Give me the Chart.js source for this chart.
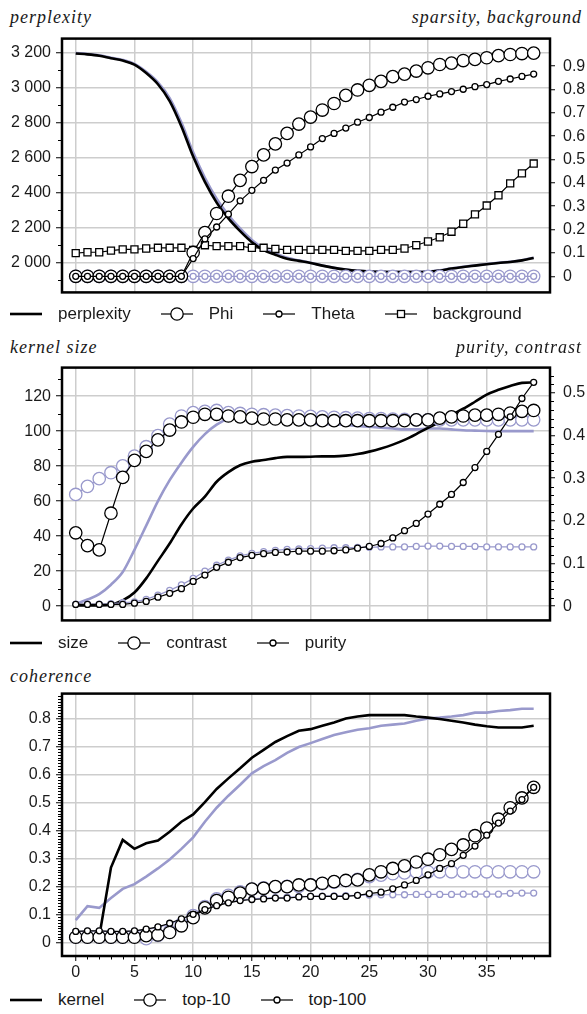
<!DOCTYPE html>
<html>
<head>
<meta charset="utf-8">
<script src="https://cdn.jsdelivr.net/npm/chart.js@4.4.1/dist/chart.umd.min.js"></script>
<style>
  body { margin: 0; width: 587px; height: 1014px; position: relative; background: #fff; overflow: hidden;
         font-family: "Liberation Sans", Arial, sans-serif; color: #1a1a1a; }
  .ttl { position: absolute; font-family: "Liberation Serif", "DejaVu Serif", serif; font-style: italic;
         font-size: 18px; letter-spacing: 1px; line-height: 1; white-space: nowrap; }
  .plot { position: absolute; left: 0; }
  .legend { position: absolute; left: 10px; height: 20px; display: flex; align-items: center; font-size: 17px; }
  .legend .item { display: flex; align-items: center; margin-right: 30px; }
  .legend canvas { margin-right: 16px; }
</style>
</head>
<body>
<div class="ttl" style="left:10px;top:8px">perplexity</div>
<div class="ttl" style="right:5px;top:8px">sparsity, background</div>
<canvas id="c1" class="plot" width="587" height="289" style="top:21px"></canvas>
<div class="legend" id="lg1" style="top:304px"></div>

<div class="ttl" style="left:10px;top:338px">kernel size</div>
<div class="ttl" style="right:5px;top:338px">purity, contrast</div>
<canvas id="c2" class="plot" width="587" height="288" style="top:350px"></canvas>
<div class="legend" id="lg2" style="top:633px"></div>

<div class="ttl" style="left:10px;top:667px">coherence</div>
<canvas id="c3" class="plot" width="587" height="309" style="top:679px"></canvas>
<div class="legend" id="lg3" style="top:990px"></div>

<script>
// iterations on the shared x axis
const iterations = [0, 1, 2, 3, 4, 5, 6, 7, 8, 9, 10, 11, 12, 13, 14, 15, 16, 17, 18, 19,
                    20, 21, 22, 23, 24, 25, 26, 27, 28, 29, 30, 31, 32, 33, 34, 35, 36, 37, 38, 39];
const iterTicks = [0, 5, 10, 15, 20, 25, 30, 35];

// --- panel 1: perplexity / sparsity / background
const perplexity = [3195, 3190, 3182, 3168, 3155, 3131, 3083, 3019, 2923, 2778, 2606, 2461, 2343, 2253, 2180, 2117, 2072, 2045, 2022, 2010,
                    1998, 1983, 1970, 1960, 1953, 1949, 1947, 1946, 1946, 1946, 1948, 1955, 1966, 1975, 1983, 1991, 1998, 2004, 2013, 2027];
const perplexityBase = [3197, 3192, 3185, 3171, 3158, 3135, 3090, 3030, 2940, 2800, 2630, 2485, 2365, 2272, 2195, 2130, 2082, 2052, 2028, 2013,
                        1999, 1984, 1971, 1961, 1954, 1950, 1948, 1947, 1947, 1947, 1949, 1956, 1967, 1976, 1984, 1992, 1999, 2005, 2014, 2028];
const phi = [0, 0, 0, 0, 0, 0, 0, 0, 0, 0, 0.102, 0.187, 0.269, 0.343, 0.411, 0.47, 0.52, 0.567, 0.612, 0.652,
             0.682, 0.712, 0.74, 0.775, 0.798, 0.818, 0.835, 0.855, 0.866, 0.879, 0.893, 0.907, 0.913, 0.924, 0.929, 0.936, 0.945, 0.95, 0.954, 0.956];
const theta = [0, 0, 0, 0, 0, 0, 0, 0, 0, 0, 0.076, 0.16, 0.211, 0.266, 0.323, 0.368, 0.411, 0.455, 0.485, 0.52,
               0.554, 0.59, 0.612, 0.635, 0.66, 0.68, 0.703, 0.724, 0.746, 0.757, 0.771, 0.781, 0.791, 0.801, 0.812, 0.821, 0.835, 0.845, 0.856, 0.866];
const phiBase = [0, 0, 0, 0, 0, 0, 0, 0, 0, 0, 0, 0, 0, 0, 0, 0, 0, 0, 0, 0,
                 0, 0, 0, 0, 0, 0, 0, 0, 0, 0, 0, 0, 0, 0, 0, 0, 0, 0, 0, 0];
const thetaBase = [0, 0, 0, 0, 0, 0, 0, 0, 0, 0, 0, 0, 0, 0, 0, 0, 0, 0, 0, 0,
                   0, 0, 0, 0, 0, 0, 0, 0, 0, 0, 0, 0, 0, 0, 0, 0, 0, 0, 0, 0];
const background = [0.099, 0.103, 0.103, 0.11, 0.115, 0.115, 0.119, 0.122, 0.122, 0.122, 0.113, 0.133, 0.129, 0.129, 0.129, 0.122, 0.122, 0.117, 0.113, 0.113,
                    0.113, 0.113, 0.113, 0.109, 0.109, 0.109, 0.113, 0.113, 0.119, 0.133, 0.149, 0.167, 0.191, 0.225, 0.265, 0.303, 0.347, 0.398, 0.441, 0.483];
const perplexityTicks = [2000, 2200, 2400, 2600, 2800, 3000, 3200];
const perplexityMinor = [1900, 2100, 2300, 2500, 2700, 2900, 3100];
const sparsityTicks = [0, 0.1, 0.2, 0.3, 0.4, 0.5, 0.6, 0.7, 0.8, 0.9];

// --- panel 2: kernel size / purity / contrast
const kernelSize = [0.5, 0.5, 0.5, 1, 3.3, 7.8, 15.9, 25.9, 35.8, 46.7, 55.8, 62.6, 71.1, 76.6, 80.5, 82.5, 83.5, 84.6, 85.3, 85.3,
                    85.4, 85.6, 85.6, 86, 86.9, 88.3, 90.1, 92.3, 95, 98.3, 101.9, 105.2, 109.2, 112.8, 116.8, 120.9, 123.6, 125.8, 127.6, 127.8];
const kernelSizeBase = [1.4, 3.8, 6.9, 12.3, 19.5, 32.2, 46, 60, 72, 82, 91, 98.3, 103.7, 107, 107.5, 107, 106.5, 106, 105.5, 105,
                        104.5, 104, 104, 103.5, 103, 102.5, 102, 101.5, 101, 101, 101.5, 101.5, 101, 100.5, 100.3, 100.1, 100, 100, 100, 100];
const contrast = [0.172, 0.142, 0.132, 0.218, 0.302, 0.342, 0.363, 0.39, 0.413, 0.432, 0.443, 0.45, 0.45, 0.446, 0.444, 0.441, 0.439, 0.439, 0.437, 0.437,
                  0.437, 0.435, 0.435, 0.435, 0.435, 0.435, 0.435, 0.435, 0.435, 0.437, 0.437, 0.441, 0.444, 0.446, 0.448, 0.448, 0.45, 0.453, 0.457, 0.459];
const contrastBase = [0.262, 0.281, 0.299, 0.313, 0.329, 0.352, 0.374, 0.4, 0.427, 0.446, 0.454, 0.457, 0.459, 0.454, 0.452, 0.45, 0.449, 0.448, 0.447, 0.446,
                      0.445, 0.444, 0.443, 0.442, 0.441, 0.44, 0.44, 0.439, 0.438, 0.437, 0.437, 0.437, 0.437, 0.437, 0.437, 0.437, 0.437, 0.437, 0.437, 0.437];
const purity = [0.004, 0.004, 0.004, 0.004, 0.004, 0.007, 0.011, 0.021, 0.03, 0.041, 0.058, 0.073, 0.091, 0.103, 0.114, 0.119, 0.123, 0.126, 0.127, 0.129,
                0.129, 0.129, 0.13, 0.132, 0.136, 0.14, 0.147, 0.16, 0.177, 0.194, 0.216, 0.239, 0.262, 0.29, 0.325, 0.363, 0.403, 0.444, 0.487, 0.525];
const purityBase = [0.005, 0.005, 0.005, 0.006, 0.008, 0.01, 0.016, 0.026, 0.037, 0.05, 0.065, 0.082, 0.096, 0.108, 0.118, 0.124, 0.128, 0.131, 0.133, 0.134,
                    0.135, 0.136, 0.137, 0.137, 0.138, 0.138, 0.139, 0.139, 0.139, 0.14, 0.141, 0.141, 0.14, 0.14, 0.14, 0.139, 0.139, 0.139, 0.139, 0.139];
const sizeTicks = [0, 20, 40, 60, 80, 100, 120];
const sizeMinor = [10, 30, 50, 70, 90, 110, 130];
const purityTicks = [0, 0.1, 0.2, 0.3, 0.4, 0.5];

// --- panel 3: coherence
const kernelCoh = [0.02, 0.02, 0.02, 0.267, 0.366, 0.334, 0.354, 0.364, 0.395, 0.431, 0.457, 0.501, 0.548, 0.586, 0.622, 0.66, 0.688, 0.716, 0.737, 0.756,
                   0.762, 0.774, 0.786, 0.8, 0.807, 0.812, 0.812, 0.812, 0.812, 0.807, 0.803, 0.798, 0.792, 0.786, 0.778, 0.772, 0.768, 0.768, 0.768, 0.774];
const kernelCohBase = [0.079, 0.129, 0.123, 0.158, 0.191, 0.208, 0.235, 0.264, 0.296, 0.334, 0.375, 0.431, 0.481, 0.524, 0.563, 0.604, 0.63, 0.651, 0.677, 0.698,
                       0.712, 0.727, 0.741, 0.751, 0.76, 0.765, 0.774, 0.778, 0.782, 0.792, 0.8, 0.803, 0.807, 0.812, 0.821, 0.821, 0.827, 0.83, 0.835, 0.835];
const top10 = [0.018, 0.018, 0.018, 0.018, 0.018, 0.018, 0.024, 0.026, 0.035, 0.059, 0.088, 0.123, 0.149, 0.161, 0.176, 0.19, 0.193, 0.199, 0.199, 0.205,
               0.205, 0.211, 0.217, 0.221, 0.223, 0.241, 0.252, 0.264, 0.273, 0.287, 0.297, 0.313, 0.332, 0.348, 0.381, 0.408, 0.44, 0.481, 0.516, 0.554];
const top10Base = [0.018, 0.018, 0.018, 0.018, 0.018, 0.02, 0.013, 0.025, 0.04, 0.065, 0.095, 0.128, 0.155, 0.168, 0.18, 0.19, 0.195, 0.198, 0.2, 0.2,
                   0.205, 0.21, 0.215, 0.22, 0.225, 0.235, 0.24, 0.245, 0.248, 0.252, 0.252, 0.252, 0.252, 0.252, 0.252, 0.252, 0.252, 0.252, 0.252, 0.252];
const top100 = [0.039, 0.041, 0.041, 0.039, 0.039, 0.041, 0.047, 0.055, 0.068, 0.084, 0.1, 0.117, 0.131, 0.141, 0.149, 0.153, 0.155, 0.158, 0.158, 0.162,
                0.164, 0.164, 0.164, 0.164, 0.168, 0.174, 0.179, 0.191, 0.205, 0.221, 0.241, 0.264, 0.281, 0.311, 0.344, 0.383, 0.426, 0.469, 0.51, 0.554];
const top100Base = [0.038, 0.04, 0.04, 0.038, 0.038, 0.04, 0.045, 0.053, 0.066, 0.082, 0.1, 0.118, 0.133, 0.143, 0.151, 0.155, 0.158, 0.16, 0.161, 0.163,
                    0.164, 0.165, 0.166, 0.167, 0.168, 0.169, 0.17, 0.17, 0.17, 0.171, 0.171, 0.171, 0.171, 0.172, 0.172, 0.172, 0.172, 0.175, 0.176, 0.176];
const coherenceTicks = [0, 0.1, 0.2, 0.3, 0.4, 0.5, 0.6, 0.7, 0.8];

const BLACK = '#000';
const LAV = '#9999cc';
const GRID = '#cdcdcd';
const TEXT = '#1a1a1a';
const TICK_FONT = { family: '"Liberation Sans", Arial, sans-serif', size: 16 };

const pts = arr => arr.map((y, i) => ({ x: iterations[i], y }));

// minor tick marks (axis decoration only)
function steps(from, to, step, skip) {
  const out = [];
  for (let k = Math.round(from / step); k * step <= to + 1e-9; k++) {
    if (k % skip !== 0) out.push(+(k * step).toFixed(4));
  }
  return out;
}
const minorSpecs = {
  c1: [{ id: 'y', values: perplexityMinor }],
  c2: [{ id: 'y', values: sizeMinor }, { id: 'y2', values: steps(0, 0.55, 0.02, 5) }],
  c3: [{ id: 'y', values: steps(0, 0.88, 0.01, 10) }, { id: 'x', values: steps(0, 39, 1, 5) }]
};

const framePlugin = {
  id: 'frame',
  beforeDatasetsDraw(chart) {
    const { ctx, chartArea: a } = chart;
    ctx.save();
    ctx.strokeStyle = '#000';
    ctx.lineWidth = 2.5;
    ctx.strokeRect(a.left, a.top, a.right - a.left, a.bottom - a.top);
    ctx.restore();
  }
};

const minorPlugin = {
  id: 'minorTicks',
  afterDraw(chart) {
    const specs = minorSpecs[chart.canvas.id] || [];
    const { ctx, chartArea: a, scales } = chart;
    ctx.save();
    ctx.strokeStyle = '#000';
    ctx.lineWidth = 1;
    specs.forEach(({ id, values }) => {
      const s = scales[id];
      values.forEach(v => {
        const p = Math.round(s.getPixelForValue(v)) + 0.5;
        ctx.beginPath();
        if (s.position === 'left') { ctx.moveTo(a.left - 4, p); ctx.lineTo(a.left, p); }
        else if (s.position === 'right') { ctx.moveTo(a.right, p); ctx.lineTo(a.right + 4, p); }
        else { ctx.moveTo(p, a.bottom); ctx.lineTo(p, a.bottom + 3.5); }
        ctx.stroke();
      });
    });
    ctx.restore();
  }
};

function lineSet(label, arr, color, axis, order, smooth) {
  return {
    label, data: pts(arr), yAxisID: axis, order,
    borderColor: color, borderWidth: 2.6, pointRadius: 0,
    cubicInterpolationMode: smooth ? 'monotone' : 'default', fill: false
  };
}

function markSet(label, arr, color, axis, order, style, radius) {
  return {
    label, data: pts(arr), yAxisID: axis, order,
    borderColor: color, borderWidth: 1.2, fill: false,
    pointStyle: style, pointRadius: radius,
    pointBorderColor: color, pointBackgroundColor: '#fff', pointBorderWidth: 1.3
  };
}

function xScale(showLabels) {
  return {
    type: 'linear', min: -1.17, max: 40.39,
    afterBuildTicks: s => { s.ticks = iterTicks.map(v => ({ value: v })); },
    afterFit: s => { s.height = showLabels ? 32 : 0; },
    grid: { color: GRID, lineWidth: 1.5, drawTicks: showLabels, tickLength: 5, tickColor: '#000', tickWidth: 1 },
    border: { display: false },
    ticks: { display: showLabels, font: TICK_FONT, color: TEXT, padding: 2, maxRotation: 0, autoSkip: false }
  };
}

function yScale(pos, min, max, tickValues, fmt) {
  const left = pos === 'left';
  return {
    type: 'linear', position: pos, min, max,
    afterBuildTicks: s => { s.ticks = tickValues.map(v => ({ value: v })); },
    afterFit: s => { s.width = left ? 62 : 37; },
    grid: { display: true, drawOnChartArea: left, color: GRID, lineWidth: 1.5,
            tickLength: left ? 6 : 5, tickColor: '#000', tickWidth: 1 },
    border: { display: false },
    ticks: { font: TICK_FONT, color: TEXT, padding: left ? 5 : 8, autoSkip: false, callback: fmt }
  };
}

const plain = v => String(v);
const spaced = v => String(v).replace(/\B(?=(\d{3})+(?!\d))/g, ' ');

function build(id, datasets, scales, padding) {
  return new Chart(document.getElementById(id), {
    type: 'line',
    data: { datasets },
    options: {
      responsive: false, animation: false, events: [],
      layout: { padding },
      plugins: { legend: { display: false }, tooltip: { enabled: false } },
      scales
    },
    plugins: [framePlugin, minorPlugin]
  });
}

build('c1', [
  lineSet('perplexity base', perplexityBase, LAV, 'y', 12, true),
  lineSet('perplexity', perplexity, BLACK, 'y', 11, true),
  markSet('Phi base', phiBase, LAV, 'y2', 9, 'circle', 6.2),
  markSet('Theta base', thetaBase, LAV, 'y2', 8, 'circle', 3),
  markSet('background', background, BLACK, 'y2', 4, 'rect', 5),
  markSet('Phi', phi, BLACK, 'y2', 3, 'circle', 6.2),
  markSet('Theta', theta, BLACK, 'y2', 2, 'circle', 3)
], {
  x: xScale(false),
  y: yScale('left', 1830, 3280, perplexityTicks, spaced),
  y2: yScale('right', -0.069, 1.018, sparsityTicks, plain)
}, { top: 10, bottom: 12, left: 0, right: 0 });

build('c2', [
  lineSet('size base', kernelSizeBase, LAV, 'y', 12, true),
  lineSet('size', kernelSize, BLACK, 'y', 11, true),
  markSet('contrast base', contrastBase, LAV, 'y2', 9, 'circle', 6.2),
  markSet('purity base', purityBase, LAV, 'y2', 8, 'circle', 3),
  markSet('contrast', contrast, BLACK, 'y2', 3, 'circle', 6.2),
  markSet('purity', purity, BLACK, 'y2', 2, 'circle', 3)
], {
  x: xScale(false),
  y: yScale('left', -8.1, 136.3, sizeTicks, plain),
  y2: yScale('right', -0.0334, 0.5595, purityTicks, plain)
}, { top: 10, bottom: 12, left: 0, right: 0 });

build('c3', [
  lineSet('kernel base', kernelCohBase, LAV, 'y', 12, false),
  lineSet('kernel', kernelCoh, BLACK, 'y', 11, false),
  markSet('top-10 base', top10Base, LAV, 'y', 9, 'circle', 6.2),
  markSet('top-100 base', top100Base, LAV, 'y', 8, 'circle', 3),
  markSet('top-10', top10, BLACK, 'y', 3, 'circle', 6.2),
  markSet('top-100', top100, BLACK, 'y', 2, 'circle', 3)
], {
  x: xScale(true),
  y: yScale('left', -0.049, 0.889, coherenceTicks, plain)
}, { top: 10, bottom: 0, left: 0, right: 37 });

// legends: small drawn samples next to real text
function sample(kind) {
  const c = document.createElement('canvas');
  c.width = 32; c.height = 18;
  const g = c.getContext('2d');
  g.strokeStyle = '#000';
  g.lineWidth = kind === 'line' ? 2.6 : 1.2;
  g.beginPath(); g.moveTo(0, 9); g.lineTo(32, 9); g.stroke();
  g.lineWidth = 1.3;
  g.fillStyle = '#fff';
  if (kind === 'big' || kind === 'small') {
    g.beginPath(); g.arc(16, 9, kind === 'big' ? 6.2 : 3, 0, Math.PI * 2);
    g.fill(); g.stroke();
  } else if (kind === 'square') {
    g.fillRect(12.5, 5.5, 7, 7); g.strokeRect(12.5, 5.5, 7, 7);
  }
  return c;
}
function legend(id, items) {
  const box = document.getElementById(id);
  items.forEach(([kind, text]) => {
    const it = document.createElement('div');
    it.className = 'item';
    it.appendChild(sample(kind));
    const t = document.createElement('span');
    t.textContent = text;
    it.appendChild(t);
    box.appendChild(it);
  });
}
legend('lg1', [['line', 'perplexity'], ['big', 'Phi'], ['small', 'Theta'], ['square', 'background']]);
legend('lg2', [['line', 'size'], ['big', 'contrast'], ['small', 'purity']]);
legend('lg3', [['line', 'kernel'], ['big', 'top-10'], ['small', 'top-100']]);
</script>
</body>
</html>
